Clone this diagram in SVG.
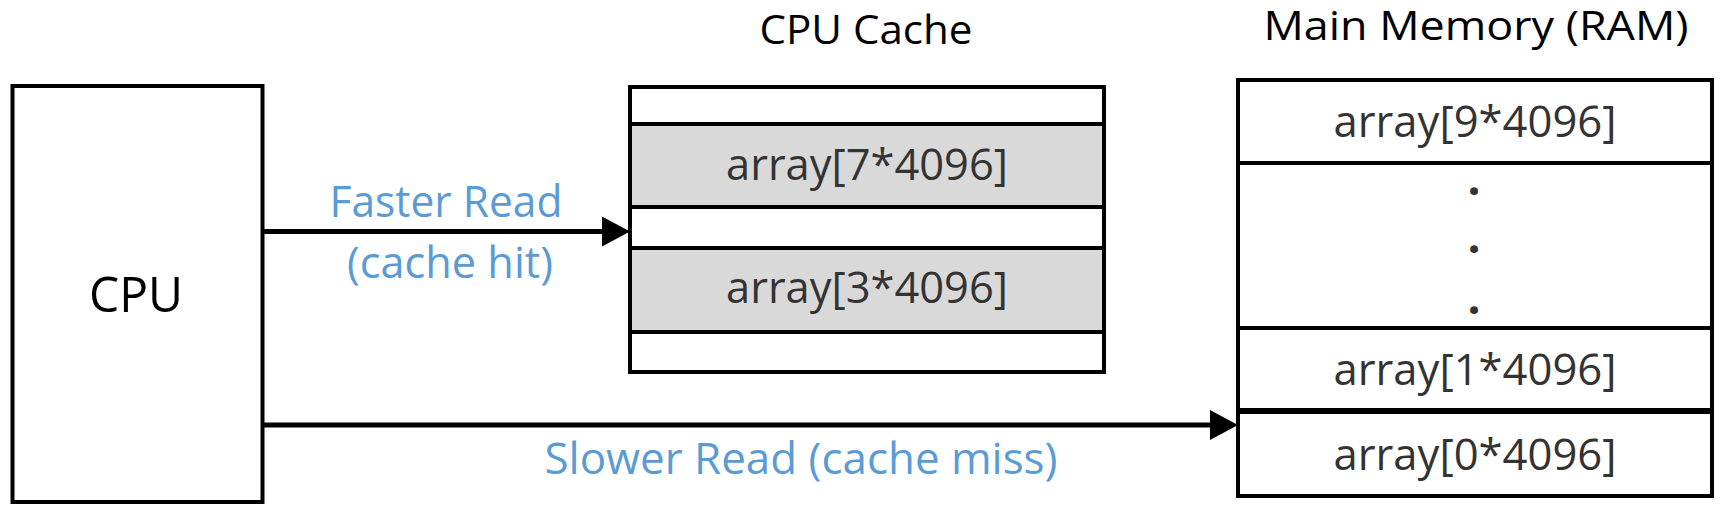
<svg xmlns="http://www.w3.org/2000/svg" width="1729" height="521" viewBox="0 0 1729 521">
  <style>
    .box { fill: #ffffff; stroke: #000000; stroke-width: 4; }
    .cell { fill: #ffffff; stroke: #000000; stroke-width: 4; }
    .hit { fill: #d9d9d9; stroke: #000000; stroke-width: 4; }
    .title { font-family: "Open Sans", "Liberation Sans", sans-serif; font-size: 40px; fill: #000000; text-anchor: middle; }
    .big { font-family: "Open Sans", "Liberation Sans", sans-serif; font-size: 50px; fill: #000000; text-anchor: middle; }
    .item { font-family: "Open Sans", "Liberation Sans", sans-serif; font-size: 44px; fill: #333333; text-anchor: middle; }
    .dot { font-family: "Open Sans", "Liberation Sans", sans-serif; font-size: 46px; font-weight: bold; fill: #333333; text-anchor: middle; }
    .label { font-family: "Open Sans", "Liberation Sans", sans-serif; font-size: 44px; fill: #5b9bd5; text-anchor: middle; }
    .conn { stroke: #000000; stroke-width: 5; fill: none; }
  </style>
  <defs>
    <marker id="arrow" markerUnits="userSpaceOnUse" markerWidth="28" markerHeight="30" refX="18" refY="15" orient="auto">
      <path d="M0,0 L28,15 L0,30 z" fill="#000000"/>
    </marker>
  </defs>
  <rect width="1729" height="521" fill="#ffffff"/>

  <g id="cpu">
    <rect class="box" x="12.5" y="86" width="250" height="416"/>
    <text class="big" x="136" y="312" textLength="94" lengthAdjust="spacingAndGlyphs">CPU</text>
  </g>

  <g id="cpu-cache">
    <text class="title" x="866" y="44" textLength="213" lengthAdjust="spacingAndGlyphs">CPU Cache</text>
    <rect class="cell" x="630" y="87" width="474" height="37"/>
    <rect class="hit" x="630" y="124" width="474" height="83"/>
    <rect class="cell" x="630" y="207" width="474" height="41"/>
    <rect class="hit" x="630" y="248" width="474" height="84"/>
    <rect class="cell" x="630" y="332" width="474" height="40"/>
    <text class="item" x="867" y="180" textLength="282" lengthAdjust="spacingAndGlyphs">array[7*4096]</text>
    <text class="item" x="867" y="303" textLength="282" lengthAdjust="spacingAndGlyphs">array[3*4096]</text>
  </g>

  <g id="main-memory">
    <text class="title" x="1476" y="40" textLength="425" lengthAdjust="spacingAndGlyphs">Main Memory (RAM)</text>
    <rect class="cell" x="1238" y="80" width="474" height="83"/>
    <rect class="cell" x="1238" y="163" width="474" height="165"/>
    <rect class="cell" x="1238" y="328" width="474" height="83"/>
    <rect class="cell" x="1238" y="411" width="474" height="85"/>
    <line x1="1238" y1="411" x2="1712" y2="411" stroke="#000000" stroke-width="6"/>
    <text class="item" x="1475" y="137" textLength="283" lengthAdjust="spacingAndGlyphs">array[9*4096]</text>
    <text class="dot" x="1474" y="195">.</text>
    <text class="dot" x="1474" y="253">.</text>
    <text class="dot" x="1474" y="314">.</text>
    <text class="item" x="1475" y="385" textLength="283" lengthAdjust="spacingAndGlyphs">array[1*4096]</text>
    <text class="item" x="1475" y="470" textLength="283" lengthAdjust="spacingAndGlyphs">array[0*4096]</text>
  </g>

  <g id="connectors">
    <line class="conn" x1="264" y1="231.5" x2="620" y2="231.5" marker-end="url(#arrow)"/>
    <line class="conn" x1="264" y1="425" x2="1228" y2="425" marker-end="url(#arrow)"/>
    <text class="label" x="446" y="217" textLength="233" lengthAdjust="spacingAndGlyphs">Faster Read</text>
    <text class="label" x="450" y="278" textLength="206" lengthAdjust="spacingAndGlyphs">(cache hit)</text>
    <text class="label" x="801" y="474" textLength="513" lengthAdjust="spacingAndGlyphs">Slower Read (cache miss)</text>
  </g>
</svg>
